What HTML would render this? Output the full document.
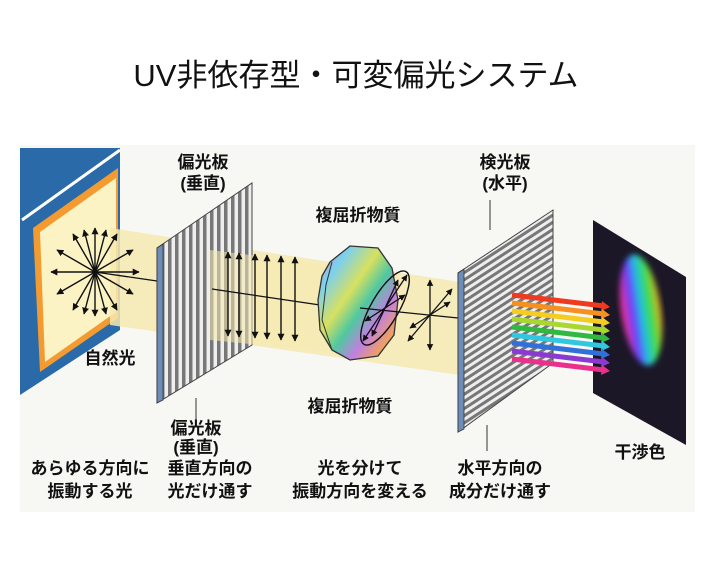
<!DOCTYPE html>
<html><head><meta charset="utf-8"><style>
html,body{margin:0;padding:0;background:#fff;width:712px;height:564px;overflow:hidden}
svg{display:block}
text{font-family:"Liberation Sans","Noto Sans CJK JP",sans-serif;fill:#111}
.b{font-weight:bold;font-size:17px;text-anchor:middle}
</style></head><body>
<svg width="712" height="564" viewBox="0 0 712 564" xmlns="http://www.w3.org/2000/svg">
<defs>
<marker id="ah" viewBox="0 0 10 10" refX="9" refY="5" markerWidth="5" markerHeight="5" orient="auto-start-reverse"><path d="M0,0L10,5L0,10z" fill="#111"/></marker>
<linearGradient id="rb" x1="0" y1="0" x2="1" y2="1">
<stop offset="0" stop-color="#f07ab0"/><stop offset=".2" stop-color="#7ad0f0"/><stop offset=".4" stop-color="#d8e060"/><stop offset=".55" stop-color="#50c8a0"/><stop offset=".7" stop-color="#c080e0"/><stop offset=".85" stop-color="#f0a060"/><stop offset="1" stop-color="#60c0e0"/></linearGradient>
<linearGradient id="sp" x1="0" y1="0" x2="1" y2="0">
<stop offset="0" stop-color="#ff3090"/><stop offset=".3" stop-color="#6040ff"/><stop offset=".5" stop-color="#20c0e0"/><stop offset=".75" stop-color="#40e040"/><stop offset="1" stop-color="#f0a020"/></linearGradient>
<filter id="bl"><feGaussianBlur stdDeviation="3"/></filter>
<pattern id="vs" width="7" height="10" patternUnits="userSpaceOnUse"><rect width="7" height="10" fill="#eee"/><rect width="3.5" height="10" fill="#777"/></pattern>
<pattern id="hs" width="10" height="6" patternUnits="userSpaceOnUse" patternTransform="rotate(-33)"><rect width="10" height="6" fill="#eee"/><rect width="10" height="3" fill="#777"/></pattern>
</defs>
<rect x="20" y="145" width="675" height="367" fill="#f7f7f4"/>
<text x="356" y="86" font-size="31" text-anchor="middle" style="font-weight:normal" fill="#222">UV非依存型・可変偏光システム</text>
<polygon points="20,148 120,148 120,330 20,395" fill="#2a6aa8"/>
<line x1="120" y1="150" x2="22" y2="220" stroke="#fff" stroke-width="3"/>
<polygon points="33,228 118,168 118,318 40,372" fill="#f39a30"/>
<polygon points="40,232 116,178 116,312 45,362" fill="#fbf3c4"/>
<polygon points="110,228 460,282 460,375 110,325" fill="#f6e9b0" opacity=".85"/>
<g stroke="#111" stroke-width="1.4" marker-end="url(#ah)">
<line x1="95" y1="272" x2="95" y2="228"/><line x1="95" y1="272" x2="95" y2="316"/>
<line x1="95" y1="272" x2="139" y2="272"/><line x1="95" y1="272" x2="51" y2="272"/>
<line x1="95" y1="272" x2="117" y2="234"/><line x1="95" y1="272" x2="73" y2="310"/>
<line x1="95" y1="272" x2="73" y2="234"/><line x1="95" y1="272" x2="117" y2="310"/>
<line x1="95" y1="272" x2="133" y2="250"/><line x1="95" y1="272" x2="57" y2="294"/>
<line x1="95" y1="272" x2="57" y2="250"/><line x1="95" y1="272" x2="133" y2="294"/>
<line x1="95" y1="272" x2="106" y2="230"/><line x1="95" y1="272" x2="84" y2="314"/>
<line x1="95" y1="272" x2="84" y2="230"/><line x1="95" y1="272" x2="106" y2="314"/>
</g>
<circle cx="95" cy="272" r="3" fill="#111"/>
<line x1="95" y1="272" x2="157" y2="281" stroke="#111" stroke-width="1.3"/>
<polygon points="157,248 252,183 252,345 157,403" fill="url(#vs)" stroke="#444" stroke-width="1"/>
<polygon points="157,248 163,244 163,400 157,403" fill="#6d8cb8" stroke="#333" stroke-width=".8"/>
<polygon points="210,250 330,265 330,352 210,340" fill="#f6e9b0" opacity=".55"/>
<line x1="212" y1="289" x2="320" y2="305" stroke="#111" stroke-width="1.3"/>
<g stroke="#111" stroke-width="1.4" marker-end="url(#ah)" marker-start="url(#ah)">
<line x1="228" y1="252" x2="228" y2="336"/><line x1="239" y1="253" x2="239" y2="337"/>
<line x1="255" y1="254" x2="255" y2="338"/><line x1="267" y1="255" x2="267" y2="339"/>
<line x1="281" y1="256" x2="281" y2="340"/><line x1="295" y1="257" x2="295" y2="341"/>
</g>
<path d="M330,262 L350,246 L378,248 L392,268 L398,300 L394,335 L378,356 L350,360 L332,350 L320,330 L318,300 L322,276Z" fill="url(#rb)" stroke="#333" stroke-width="1.3"/>
<path d="M332,262 L326,285 L322,320 L332,350" fill="none" stroke="#333" stroke-width="1"/>
<line x1="360" y1="308" x2="458" y2="318" stroke="#111" stroke-width="1.3"/>
<ellipse cx="385" cy="308" rx="14" ry="42" transform="rotate(30 385 308)" fill="none" stroke="#111" stroke-width="1.4"/>
<g stroke="#111" stroke-width="1.3" marker-end="url(#ah)">
<line x1="385" y1="308" x2="407" y2="275"/><line x1="385" y1="308" x2="363" y2="341"/>
<line x1="385" y1="308" x2="398" y2="280"/><line x1="385" y1="308" x2="372" y2="336"/>
<line x1="385" y1="308" x2="405" y2="295"/><line x1="385" y1="308" x2="365" y2="321"/>
<line x1="430" y1="315" x2="430" y2="280"/><line x1="430" y1="315" x2="430" y2="350"/>
<line x1="430" y1="315" x2="452" y2="289"/><line x1="430" y1="315" x2="408" y2="341"/>
<line x1="430" y1="315" x2="450" y2="302"/><line x1="430" y1="315" x2="410" y2="328"/>
</g>
<polygon points="458,273 553,210 553,363 458,432" fill="url(#hs)" stroke="#444" stroke-width="1"/>
<polygon points="458,273 464,269 464,429 458,432" fill="#6d8cb8" stroke="#333" stroke-width=".8"/>
<polygon points="593,220 686,277 686,445 593,393" fill="#1b1727"/>
<ellipse cx="641" cy="310" rx="20" ry="56" transform="rotate(-8 641 310)" fill="url(#sp)" filter="url(#bl)"/>
<g stroke-width="5" fill="none">
<line x1="512" y1="295" x2="604" y2="306" stroke="#f03a20"/>
<line x1="512" y1="303" x2="604" y2="314" stroke="#f7901e"/>
<line x1="512" y1="311" x2="604" y2="322" stroke="#f5cc20"/>
<line x1="512" y1="319" x2="604" y2="330" stroke="#a8d830"/>
<line x1="512" y1="327" x2="604" y2="338" stroke="#30b840"/>
<line x1="512" y1="335" x2="604" y2="346" stroke="#30c8e0"/>
<line x1="512" y1="343" x2="604" y2="354" stroke="#3070d8"/>
<line x1="512" y1="351" x2="604" y2="362" stroke="#8a3ad0"/>
<line x1="512" y1="359" x2="604" y2="370" stroke="#e8308c"/>
</g>
<g>
<polygon points="602,301 610,307 601,311" fill="#f03a20"/><polygon points="602,309 610,315 601,319" fill="#f7901e"/>
<polygon points="602,317 610,323 601,327" fill="#f5cc20"/><polygon points="602,325 610,331 601,335" fill="#a8d830"/>
<polygon points="602,333 610,339 601,343" fill="#30b840"/><polygon points="602,341 610,347 601,351" fill="#30c8e0"/>
<polygon points="602,349 610,355 601,359" fill="#3070d8"/><polygon points="602,357 610,363 601,367" fill="#8a3ad0"/>
<polygon points="602,365 610,371 601,375" fill="#e8308c"/>
</g>
<line x1="196" y1="398" x2="196" y2="419" stroke="#333" stroke-width="1"/>
<line x1="490" y1="200" x2="490" y2="230" stroke="#333" stroke-width="1"/>
<line x1="487" y1="425" x2="487" y2="451" stroke="#333" stroke-width="1"/>
<text class="b" x="203" y="168">偏光板</text><text class="b" x="203" y="189">(垂直)</text>
<text class="b" x="358" y="221">複屈折物質</text>
<text class="b" x="505" y="168">検光板</text><text class="b" x="505" y="189">(水平)</text>
<text class="b" x="110" y="364">自然光</text>
<text class="b" x="350" y="412">複屈折物質</text>
<text class="b" x="196" y="434">偏光板</text><text class="b" x="196" y="453">(垂直)</text>
<text class="b" x="640" y="458">干渉色</text>
<text class="b" x="90" y="474">あらゆる方向に</text><text class="b" x="90" y="497">振動する光</text>
<text class="b" x="210" y="474">垂直方向の</text><text class="b" x="210" y="497">光だけ通す</text>
<text class="b" x="360" y="474">光を分けて</text><text class="b" x="360" y="497">振動方向を変える</text>
<text class="b" x="500" y="474">水平方向の</text><text class="b" x="500" y="497">成分だけ通す</text>
</svg>
</body></html>
